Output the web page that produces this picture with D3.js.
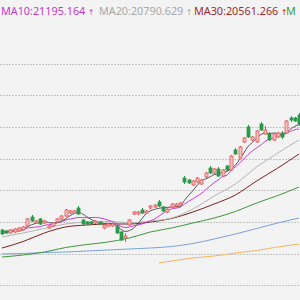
<!DOCTYPE html>
<html><head><meta charset="utf-8">
<script src="https://cdn.jsdelivr.net/npm/d3@7"></script>
<style>html,body{margin:0;padding:0;background:#f3f3f3;}svg{display:block;}</style>
</head><body>
<svg id="c" width="300" height="300"></svg>
<script>
// ---- data ----
const opens  = [19375,19359,19328,19344,19359,19375,19438,19580,19486,19549,19486,19407,19438,19501,19549,19596,19643,19643,19722,19533,19501,19501,19486,19501,19407,19438,19438,19438,19344,19249,19454,19628,19628,19691,19643,19722,19738,19817,19738,19659,19738,19754,19769,20195,20164,20085,20132,20101,20211,20353,20274,20337,20227,20385,20322,20637,20511,20763,21001,20795,20763,21047,20889,20889,20795,20842,20905,20905,21142,21142,21189];
const highs  = [19391,19375,19391,19407,19423,19438,19564,19612,19533,19564,19533,19470,19501,19564,19612,19706,19691,19691,19754,19549,19517,19517,19533,19517,19470,19486,19486,19454,19359,19328,19549,19675,19675,19722,19691,19769,19785,19848,19754,19722,19801,19801,19817,20227,20180,20164,20211,20180,20290,20385,20353,20369,20337,20401,20559,20669,20700,20842,21032,20858,20953,21079,21016,20921,20905,20921,20937,21110,21173,21158,21220];
const lows   = [19296,19312,19312,19328,19344,19359,19423,19501,19470,19454,19470,19391,19423,19486,19533,19580,19628,19628,19612,19454,19454,19454,19470,19454,19391,19423,19423,19312,19202,19186,19438,19612,19612,19628,19628,19706,19722,19738,19659,19643,19722,19738,19754,20101,20101,20069,20117,20085,20195,20259,20259,20211,20211,20306,20306,20559,20495,20748,20826,20779,20748,20937,20874,20779,20779,20826,20811,20889,21079,21079,21016];
const closes = [19312,19328,19375,19391,19407,19423,19549,19517,19517,19470,19517,19438,19486,19549,19596,19691,19675,19675,19628,19470,19470,19470,19517,19470,19454,19470,19470,19328,19217,19281,19533,19659,19659,19643,19675,19754,19769,19754,19675,19706,19785,19785,19801,20132,20117,20148,20195,20164,20274,20274,20337,20227,20322,20322,20543,20574,20685,20826,20842,20842,20937,20953,20953,20795,20889,20905,20842,21095,21110,21095,21047];

const ma5  = [19344,19344,19352,19359,19363,19385,19429,19457,19482,19495,19514,19492,19486,19492,19517,19552,19599,19637,19653,19628,19583,19542,19511,19479,19476,19476,19476,19438,19388,19353,19366,19404,19470,19555,19634,19678,19700,19719,19725,19732,19738,19741,19751,19842,19924,19997,20079,20151,20180,20211,20249,20255,20287,20296,20350,20397,20489,20590,20694,20754,20826,20880,20905,20896,20905,20899,20877,20905,20968,21009,21038];
const ma10 = [19344,19352,19367,19375,19383,19391,19407,19415,19423,19429,19449,19460,19471,19487,19506,19533,19546,19561,19572,19572,19568,19571,19574,19566,19552,19530,19509,19475,19434,19415,19421,19440,19454,19471,19494,19522,19552,19595,19640,19683,19708,19721,19735,19784,19828,19867,19910,19951,20011,20068,20123,20167,20219,20238,20322,20369,20432,20495,20566,20621,20669,20716,20771,20811,20829,20863,20878,20905,20932,20957,20968];

const sampleIdx = [0,5,10,15,20,25,30,35,40,45,50,55,60,65,70];
const ma20  = [19265,19328,19399,19470,19501,19509,19493,19517,19564,19706,19911,20101,20369,20590,20795];
const ma30  = [19091,19194,19328,19423,19454,19470,19470,19501,19557,19659,19785,19927,20148,20353,20574];
const ma60  = [18949,18981,19028,19099,19146,19186,19249,19344,19407,19486,19564,19667,19801,19919,20053];
const ma120 = [18997,19005,19020,19028,19044,19060,19075,19091,19115,19162,19233,19312,19399,19486,19564];
const ma250Idx = [37,40,45,50,55,60,65,70];
const ma250 = [18855,18886,18934,18965,19012,19052,19107,19154];

const gridTicks = [18500,19000,19500,20000,20500,21000,21500,22000];

const legendLabels = ["MA10:21195.164","MA20:20790.629","MA30:20561.266","M"];
const legendColors = ["#c23bc6","#a8a8a8","#9c2a2a","#3b9a3b"];

// ---- chart ----
const W = 300, H = 300;
const svg = d3.select("#c");
const n = closes.length;
const x = d3.scaleBand().domain(d3.range(n)).range([-0.12, 301.12]).paddingInner(0.3).paddingOuter(0.15);
const cx = i => x(i) + x.bandwidth()/2;
const y = d3.scaleLinear().domain([18271, 23003]).range([H, 0]);

// grid
svg.append("g").selectAll("line").data(gridTicks).join("line")
  .attr("x1",0).attr("x2",W)
  .attr("y1",d=>Math.round(y(d))+0.5).attr("y2",d=>Math.round(y(d))+0.5)
  .attr("stroke","#c4c4c4").attr("stroke-width",1).attr("stroke-dasharray","2,1");

// MA lines
const lineIdx = (idx, vals) => d3.line().x((d,k)=>cx(idx[k])).y(d=>y(d)).curve(d3.curveMonotoneX)(vals);
const allIdx = d3.range(n);
const maDefs = [
  {idx: ma250Idx, v: ma250, c:"#f2b65e"},
  {idx: sampleIdx, v: ma120, c:"#79a3de"},
  {idx: sampleIdx, v: ma60, c:"#3f963f"},
  {idx: sampleIdx, v: ma30, c:"#7a1f1f"},
  {idx: sampleIdx, v: ma20, c:"#b4b4b4"},
  {idx: allIdx, v: ma10, c:"#c83cd0"},
  {idx: allIdx, v: ma5, c:"#555555"}
];
svg.append("g").selectAll("path").data(maDefs).join("path")
  .attr("d", d=>lineIdx(d.idx, d.v))
  .attr("fill","none").attr("stroke",d=>d.c).attr("stroke-width",1);

// candles
const up = "#e25656", upFill = "#f5c2c2", down = "#2a9a4a";
const cg = svg.append("g");
const idx = d3.range(n);
cg.selectAll("line").data(idx).join("line")
  .attr("x1",i=>Math.round(cx(i))+0.5).attr("x2",i=>Math.round(cx(i))+0.5)
  .attr("y1",i=>y(highs[i])).attr("y2",i=>y(lows[i]))
  .attr("stroke",i=>closes[i]>=opens[i]?up:down).attr("stroke-width",1);
cg.selectAll("rect").data(idx).join("rect")
  .attr("x",i=>Math.round(cx(i))-1)
  .attr("width",3)
  .attr("y",i=>y(Math.max(opens[i],closes[i])))
  .attr("height",i=>Math.max(1,Math.abs(y(opens[i])-y(closes[i]))))
  .attr("fill",i=>closes[i]>=opens[i]?upFill:down)
  .attr("stroke",i=>closes[i]>=opens[i]?up:down).attr("stroke-width",0.8);

// legend: label followed by arrow in natural flow
const legX = [1, 99, 194, 286];
const lg = svg.append("g").attr("font-family","'Noto Sans', 'Open Sans', sans-serif").attr("font-size",10.8);
legendLabels.forEach((t,k)=>{
  const tx = lg.append("text").attr("x",legX[k]).attr("y",15).attr("fill",legendColors[k]);
  tx.append("tspan").text(t);
  if(k<3) tx.append("tspan").attr("dx",2.5)
    .attr("font-family","'DejaVu Sans', sans-serif").attr("font-size",8).text("↑");
});
</script>
</body></html>
